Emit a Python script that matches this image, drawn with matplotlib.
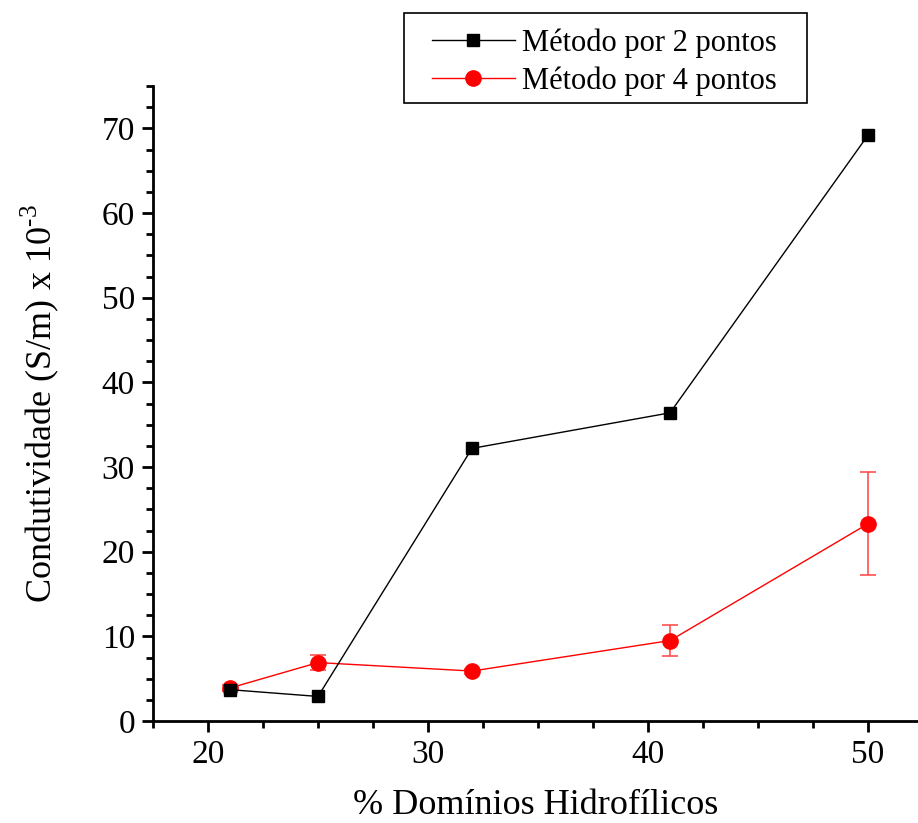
import matplotlib.pyplot as plt
from matplotlib.patches import Rectangle
from matplotlib.ticker import MultipleLocator

# Data
x = [21, 25, 32, 41, 50]
dois_pontos = [3.7, 2.9, 32.2, 36.4, 69.2]
quatro_pontos = [3.9, 6.9, 5.9, 9.5, 23.3]
quatro_err = [0.3, 0.9, 0.3, 1.8, 6.1]

plt.rcParams['font.family'] = ['Liberation Serif', 'DejaVu Serif']
plt.rcParams['mathtext.fontset'] = 'custom'
plt.rcParams['mathtext.rm'] = 'Liberation Serif'

fig = plt.figure(figsize=(9.18, 8.23), dpi=100)
ax = fig.add_axes([153 / 918, 102 / 823, 765 / 918, 635 / 823])

ax.plot(x, dois_pontos, color='black', lw=1, marker='s', ms=9,
        label='Método por 2 pontos', zorder=3)
ax.errorbar(x, quatro_pontos, yerr=quatro_err, fmt='none', ecolor='#ff5050',
            capsize=6, elinewidth=1.2, capthick=1.2, zorder=2)
ax.plot(x, quatro_pontos, color='red', lw=1, marker='o', ms=11,
        label='Método por 4 pontos', zorder=2)

ax.set_xlim(17.5, 52.27)
ax.set_ylim(0, 75)
ax.xaxis.set_major_locator(MultipleLocator(10))
ax.xaxis.set_minor_locator(MultipleLocator(2.5))
ax.yaxis.set_major_locator(MultipleLocator(10))
ax.yaxis.set_minor_locator(MultipleLocator(2.5))

for side in ['top', 'right']:
    ax.spines[side].set_visible(False)
for side in ['left', 'bottom']:
    ax.spines[side].set_linewidth(2)

ax.tick_params(which='major', direction='out', length=8, width=2, labelsize=24, pad=5)
ax.tick_params(which='minor', direction='out', length=5, width=2)

ax.set_xlabel('% Domínios Hidrofílicos', fontsize=26, labelpad=14)
ax.set_ylabel('Condutividade (S/m) x 10$^{\\mathrm{‐3}}$', fontsize=26, labelpad=29)

# legend box drawn as a separate frame, legend itself without frame
fig.patches.append(Rectangle((404 / 918, 1 - 103 / 823), 403 / 918, 90 / 823,
                             transform=fig.transFigure, fill=False,
                             edgecolor='black', lw=1.2))
leg = ax.legend(loc='upper left', bbox_to_anchor=(432 / 918, 1 - 28 / 823),
                bbox_transform=fig.transFigure, fontsize=22, frameon=False,
                handlelength=2.7, handletextpad=0.25, borderpad=0,
                labelspacing=0.28, borderaxespad=0)

fig.savefig('out.png', dpi=100)
